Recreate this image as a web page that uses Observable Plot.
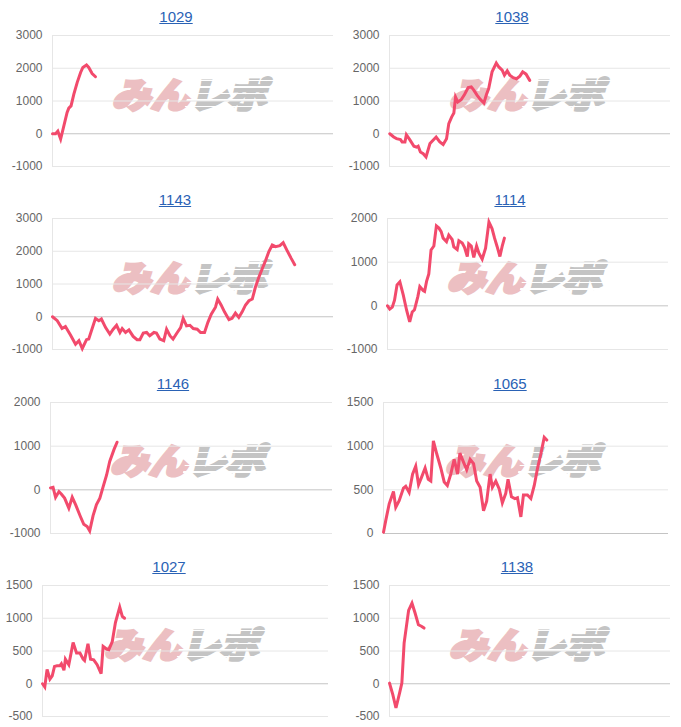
<!DOCTYPE html>
<html><head><meta charset="utf-8">
<script src="https://cdn.jsdelivr.net/npm/d3@7"></script>
<script src="https://cdn.jsdelivr.net/npm/@observablehq/plot@0.6"></script>
<style>
body{margin:0;background:#fff;}
#root{position:relative;width:681px;height:727px;overflow:hidden;font-family:"Liberation Sans",Arial,sans-serif;}
.panel{position:absolute;height:183px;}
.title{position:absolute;left:0;right:0;top:7px;line-height:20px;text-align:center;font-size:15px;}
.title a{color:#2a62b5;text-decoration:underline;}
.wm{position:absolute;white-space:nowrap;font-family:"Noto Sans CJK JP";font-weight:900;font-size:35px;line-height:1;}
.wm .a{color:#ecbfc2;-webkit-text-stroke:3px #ecbfc2;}
.wm .b{color:#c4c4c4;-webkit-text-stroke:3px #c4c4c4;position:relative;display:inline-block;}
.wm .b::after{content:"";position:absolute;left:-4px;right:-4px;top:0;bottom:0;background:repeating-linear-gradient(180deg,rgba(255,255,255,0) 0 5px,#fff 5px 6.5px);}
.panel svg{position:absolute;left:0;top:24px;}
</style>
</head><body>
<div id="root"></div>
<script>
// ---- data (x: run progress 0–100, y: difference) ----
const titles = ["1029","1038","1143","1114","1146","1065","1027","1138"];

const x1029 = [0,1.1,1.9,2.9,5.2,5.8,6.6,7.6,8.8,10.0,10.8,12.1,12.9,14.1,15.3];
const y1029 = [0,0,80,-160,650,780,850,1210,1570,1870,2025,2100,2025,1840,1740];

const x1038 = [0.1,1.5,2.5,3.9,4.5,5.5,6.0,7.2,8.7,9.6,10.2,11.0,12.0,13.0,14.4,15.5,16.6,17.9,19.1,20.3,21.1,22.1,22.9,23.5,24.3,25.5,26.7,28.0,29.1,30.0,31.2,32.4,33.6,34.5,35.3,36.5,38.0,38.9,40.1,40.9,41.9,42.8,44.0,45.2,46.4,47.4,48.6,49.9];
const y1038 = [0,-100,-150,-180,-250,-250,-30,-180,-380,-410,-380,-560,-610,-710,-300,-200,-100,-250,-330,-150,310,510,630,1120,970,1040,1200,1410,1430,1330,1170,1040,940,1200,1380,1890,2160,2040,1940,1790,1920,1790,1710,1680,1760,1890,1820,1630];

const x1143 = [0,1.7,3.4,4.6,6.4,8.2,9.4,10.6,12.1,12.9,15.3,16.5,17.4,18.9,20.4,21.6,22.8,24.0,24.8,26.0,27.2,28.7,30.1,31.1,32.3,33.5,34.6,36.1,37.0,38.2,39.6,40.6,41.8,42.9,44.4,45.6,46.5,47.7,48.9,50.1,51.5,52.7,54.1,55.3,56.5,58.0,58.8,60.0,61.2,62.8,63.9,65.1,66.3,67.5,68.7,69.9,71.1,72.2,73.4,74.6,75.8,77.0,78.2,79.4,80.9,82.1,83.5,84.9,86.2];
const y1143 = [0,-120,-360,-300,-560,-840,-730,-970,-700,-680,-50,-120,-70,-330,-530,-380,-260,-480,-360,-480,-400,-600,-700,-700,-500,-480,-580,-480,-500,-680,-730,-380,-580,-680,-480,-330,-50,-280,-260,-360,-380,-480,-480,-170,80,290,540,360,150,-90,-50,110,-20,150,360,490,540,900,1200,1460,1710,1990,2190,2140,2170,2260,2020,1790,1590];

const x1114 = [0,0.8,1.7,2.5,3.4,4.4,5.6,6.8,7.9,8.8,9.6,10.8,11.5,12.7,13.2,13.9,14.7,15.5,16.5,17.4,18.3,19.1,19.8,21.0,21.8,23.0,23.6,24.8,25.4,26.6,27.4,28.4,28.9,29.8,30.7,31.7,32.5,33.7,34.9,36.1,37.2,38.1,39.0,40.0,40.8,41.6];
const y1114 = [0,-75,-30,130,480,550,250,-100,-370,-140,-90,210,440,350,330,560,730,1280,1370,1830,1780,1700,1550,1470,1620,1520,1350,1290,1490,1440,1340,1130,1420,1370,1110,1370,1210,1070,1320,1920,1770,1550,1360,1130,1360,1550];

const x1146 = [0,0.9,1.8,3.0,3.9,5.0,6.5,7.7,8.9,10.6,11.8,13.0,13.9,15.1,16.3,17.5,18.7,19.9,21.0,22.5,23.6];
const y1146 = [45,60,-170,-40,-100,-190,-420,-170,-340,-610,-790,-840,-940,-590,-340,-190,80,340,650,920,1090];

const x1065 = [0,0.8,2.0,3.5,4.3,5.5,7.0,7.8,9.0,10.2,11.3,12.3,13.3,14.6,15.7,16.6,17.5,18.7,20.1,21.3,22.4,23.6,24.8,26.0,26.8,28.1,29.2,30.4,31.6,32.7,33.9,35.1,36.2,37.4,38.2,39.4,40.6,41.7,42.9,43.7,44.9,46.1,47.0,48.2,49.1,50.5,51.7,52.9,54.0,55.2,56.4,57.3];
const y1065 = [15,150,340,480,300,375,520,540,470,680,770,560,640,750,620,600,1060,910,750,590,550,680,850,680,920,815,730,850,800,600,530,260,370,680,530,600,510,350,460,620,420,400,410,190,440,440,400,550,740,910,1100,1070];

const x1027 = [0,0.8,1.6,2.6,3.4,4.2,5.1,6.1,6.6,7.5,8.0,9.2,10.0,10.7,11.9,13.1,14.2,14.7,15.9,16.8,17.9,19.1,20.5,21.2,22.4,23.2,24.4,25.5,27.0,27.9,28.7];
const y1027 = [0,-50,220,70,120,265,275,275,305,205,375,290,470,630,470,470,375,355,610,375,365,290,155,570,530,520,645,935,1170,1030,1000];

const x1138 = [0,1.2,2.3,3.6,4.4,5.2,6.8,8.0,9.1,10.3,11.5,12.3];
const y1138 = [10,-170,-370,-140,10,620,1120,1230,1080,900,875,850];

const ticksA = [-1000,0,1000,2000,3000];
const ticksB = [-1000,0,1000,2000];
const ticksC = [0,500,1000,1500];
const ticksD = [-500,0,500,1000,1500];

const series = [
  {xs:x1029, ys:y1029, ticks:ticksA},
  {xs:x1038, ys:y1038, ticks:ticksA},
  {xs:x1143, ys:y1143, ticks:ticksA},
  {xs:x1114, ys:y1114, ticks:ticksB},
  {xs:x1146, ys:y1146, ticks:ticksB},
  {xs:x1065, ys:y1065, ticks:ticksC},
  {xs:x1027, ys:y1027, ticks:ticksD},
  {xs:x1138, ys:y1138, ticks:ticksD}
];

// ---- layout (separate from data) ----
const rowTops = [0, 183, 366.7, 550.3];
const colLefts = [0, 340];
const colWidths = [340, 341];
const layout = [
  {ml:52, mr:7,  dx:6},
  {ml:49, mr:11, dx:1.5},
  {ml:52, mr:7,  dx:5},
  {ml:47, mr:13, dx:-0.5},
  {ml:50, mr:8,  dx:3},
  {ml:43, mr:13, dx:-0.5},
  {ml:42, mr:12, dx:-1},
  {ml:49, mr:11, dx:6.5}
];

const root = document.getElementById("root");
const LINE = "#f24a6c";

series.forEach((s, i) => {
  const col = i % 2, row = Math.floor(i / 2);
  const L = layout[i];
  const pw = colWidths[col];
  const panel = document.createElement("div");
  panel.className = "panel";
  panel.style.left = colLefts[col] + "px";
  panel.style.top = rowTops[row] + "px";
  panel.style.width = pw + "px";

  const t = document.createElement("div");
  t.className = "title";
  t.style.transform = `translateX(${L.dx}px)`;
  const a = document.createElement("a");
  a.href = "#";
  a.textContent = titles[i];
  t.appendChild(a);
  panel.appendChild(t);

  // watermark
  const wm = document.createElement("div");
  wm.className = "wm";
  const cx = L.ml + (pw - L.ml - L.mr) / 2;
  const cy = 24 + 11 + 65.5 - 9;
  wm.style.left = cx + "px";
  wm.style.top = cy + "px";
  wm.style.transform = "translate(-50%,-50%) skewX(-14deg) scaleX(1.1)";
  wm.innerHTML = '<span class="a">みん</span><span class="b">レポ</span>';
  panel.appendChild(wm);

  const lo = d3.min(s.ticks), hi = d3.max(s.ticks);
  const data = s.xs.map((x, k) => ({x, y: s.ys[k]}));
  const svg = Plot.plot({
    width: pw, height: 156,
    marginTop: 11, marginBottom: 14, marginLeft: L.ml, marginRight: L.mr,
    x: {domain: [0, 100], axis: null},
    y: {domain: [lo, hi], ticks: s.ticks, tickSize: 0, tickPadding: 10, tickFormat: d => String(d), label: null},
    style: {background: "transparent", fontSize: "12px", fontFamily: "Liberation Sans, Arial, sans-serif", color: "#666", overflow: "visible"},
    marks: [
      Plot.ruleY(s.ticks.filter(d => d !== 0), {stroke: "#e6e6e6", strokeWidth: 1}),
      Plot.ruleY([0], {stroke: "#c4c4c4", strokeWidth: 1}),
      Plot.ruleX([0], {y1: lo, y2: hi, stroke: "#e6e6e6", strokeWidth: 1}),
      Plot.line(data, {x: "x", y: "y", stroke: LINE, strokeWidth: 3, strokeLinejoin: "miter", strokeMiterlimit: 4})
    ]
  });
  panel.appendChild(svg);
  root.appendChild(panel);
});
</script>
</body></html>
